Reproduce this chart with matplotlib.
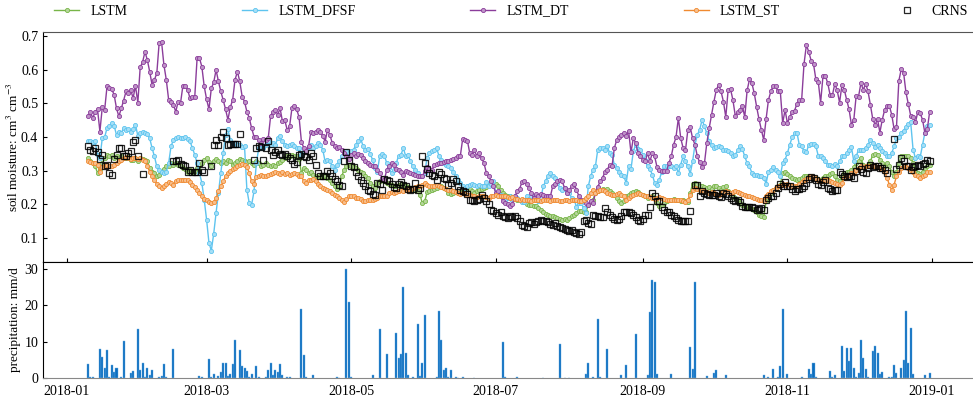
import numpy as np
import pandas as pd
import matplotlib

matplotlib.use("Agg")
import matplotlib.pyplot as plt
import matplotlib.dates as mdates
from matplotlib.colors import to_rgb

plt.rcParams.update({
    "font.family": "serif",
    "font.serif": ["Liberation Serif", "DejaVu Serif"],
    "mathtext.fontset": "stix",
    "font.size": 10,
    "xtick.direction": "in",
    "ytick.direction": "in",
    "axes.linewidth": 0.8,
})

nan = np.nan
start = "2018-01-10"

# daily soil moisture, 2018-01-10 .. 2018-12-31 (cm3/cm3)
lstm = [
    0.337, 0.327, 0.322, 0.312, 0.293, 0.304, 0.322, 0.337, 0.347, 0.342,
    0.347, 0.337, 0.344, 0.337, 0.342, 0.337, 0.337, 0.340, 0.332, 0.330,
    0.337, 0.327, 0.337, 0.334, 0.332, 0.327, 0.307, 0.297, 0.293, 0.283,
    0.288, 0.297, 0.304, 0.312, 0.314, 0.322, 0.317, 0.322, 0.317, 0.312,
    0.307, 0.304, 0.297, 0.302, 0.297, 0.300, 0.307, 0.302, 0.322, 0.332,
    0.337, 0.324, 0.312, 0.327, 0.334, 0.327, 0.322, 0.327, 0.322, 0.332,
    0.327, 0.317, 0.322, 0.327, 0.334, 0.330, 0.327, 0.324, 0.327, 0.322,
    0.317,
    0.327, 0.322, 0.314, 0.317, 0.322, 0.317, 0.314, 0.317, 0.314, 0.322,
    0.324, 0.332, 0.337, 0.342, 0.342, 0.347, 0.344, 0.342, 0.334, 0.293,
    0.307, 0.302, 0.293, 0.297, 0.288, 0.283, 0.281, 0.283, 0.285, 0.283,
    0.278, 0.273, 0.263, 0.253, 0.245, 0.253, 0.283, 0.302, 0.314, 0.317,
    0.312, 0.310, 0.307, 0.302, 0.297, 0.293, 0.283, 0.278, 0.263, 0.253,
    0.248, 0.263, 0.268, 0.273, 0.268, 0.263, 0.261, 0.258, 0.255, 0.253,
    0.258, 0.261, 0.258, 0.253, 0.250, 0.245, 0.243, 0.241, 0.238, 0.228,
    0.203, 0.208,
    0.235, 0.238, 0.243, 0.245, 0.248, 0.253, 0.253, 0.248, 0.245, 0.233,
    0.231, 0.233, 0.235, 0.233, 0.235, 0.238, 0.243, 0.245, 0.245, 0.238,
    0.233, 0.238, 0.243, 0.245, 0.248, 0.251, 0.258, 0.265, 0.263, 0.261,
    0.253, 0.243, 0.233, 0.228, 0.225, 0.223, 0.218, 0.215, 0.213, 0.211,
    0.208, 0.205, 0.201, 0.198, 0.198, 0.196, 0.196, 0.189, 0.184, 0.176,
    0.172, 0.169, 0.164, 0.164, 0.162, 0.159, 0.156, 0.154, 0.156, 0.152,
    0.159, 0.164, 0.169, 0.174, 0.179, 0.179, 0.176, 0.176, 0.198, 0.205,
    0.213,
    0.233, 0.238, 0.241, 0.245, 0.243, 0.245, 0.238, 0.233, 0.228, 0.218,
    0.208, 0.203, 0.208, 0.223, 0.228, 0.233, 0.235, 0.238, 0.235, 0.231,
    0.228, 0.223, 0.218, 0.221, 0.225, 0.218, 0.203, 0.196, 0.198, 0.203,
    0.208, 0.211, 0.213, 0.215, 0.213, 0.211, 0.208, 0.211, 0.208, 0.205,
    0.233, 0.261, 0.263, 0.261, 0.255, 0.253, 0.251, 0.248, 0.251, 0.245,
    0.253, 0.255, 0.248, 0.243, 0.251, 0.253, 0.238, 0.228, 0.223, 0.218,
    0.211, 0.203, 0.198, 0.196, 0.192, 0.189, 0.186, 0.182, 0.176, 0.169,
    0.164, 0.162,
    0.208, 0.218, 0.233, 0.243, 0.245, 0.253, 0.258, 0.293, 0.295, 0.291,
    0.283, 0.278, 0.275, 0.273, 0.275, 0.278, 0.283, 0.283, 0.285, 0.283,
    0.281, 0.278, 0.275, 0.273, 0.278, 0.283, 0.285, 0.291, 0.293, 0.283,
    0.273, 0.268, 0.283, 0.293, 0.295, 0.297, 0.302, 0.310, 0.322, 0.327,
    0.337, 0.317, 0.312, 0.317, 0.327, 0.347, 0.350, 0.347, 0.332, 0.322,
    0.314, 0.322, 0.312, 0.297, 0.285, 0.297, 0.322, 0.342, 0.344, 0.342,
    0.342, 0.337, 0.322, 0.302, 0.293, 0.291, 0.297, 0.307, 0.312, 0.317,
]

lstm_dfsf = [
    0.387, 0.387, 0.384, 0.387, 0.347, 0.337, 0.396, 0.399, 0.426, 0.431,
    0.441, 0.433, 0.406, 0.416, 0.411, 0.426, 0.421, 0.423, 0.416, 0.423,
    0.436, 0.403, 0.411, 0.416, 0.411, 0.409, 0.396, 0.367, 0.342, 0.312,
    0.302, 0.297, 0.293, 0.297, 0.322, 0.372, 0.391, 0.396, 0.399, 0.396,
    0.396, 0.399, 0.393, 0.387, 0.367, 0.347, 0.322, 0.293, 0.263, 0.213,
    0.154, 0.085, 0.062, 0.112, 0.174, 0.233, 0.293, 0.352, 0.406, 0.423,
    0.391, 0.382, 0.382, 0.377, 0.377, 0.370, 0.372, 0.243, 0.203, 0.198,
    0.238,
    0.322, 0.367, 0.367, 0.367, 0.377, 0.387, 0.377, 0.382, 0.377, 0.396,
    0.403, 0.387, 0.377, 0.374, 0.377, 0.380, 0.374, 0.367, 0.367, 0.347,
    0.357, 0.362, 0.370, 0.377, 0.367, 0.374, 0.382, 0.377, 0.362, 0.327,
    0.332, 0.327, 0.312, 0.302, 0.317, 0.327, 0.342, 0.354, 0.357, 0.344,
    0.357, 0.362, 0.377, 0.387, 0.396, 0.372, 0.362, 0.364, 0.350, 0.332,
    0.307, 0.295, 0.342, 0.350, 0.344, 0.322, 0.307, 0.293, 0.302, 0.322,
    0.344, 0.347, 0.367, 0.342, 0.347, 0.327, 0.312, 0.302, 0.293, 0.285,
    0.283, 0.293,
    0.337, 0.352, 0.357, 0.362, 0.367, 0.344, 0.332, 0.322, 0.317, 0.312,
    0.307, 0.297, 0.283, 0.273, 0.263, 0.253, 0.248, 0.255, 0.258, 0.261,
    0.258, 0.253, 0.258, 0.253, 0.255, 0.265, 0.253, 0.261, 0.268, 0.233,
    0.223, 0.228, 0.218, 0.213, 0.218, 0.223, 0.213, 0.223, 0.218, 0.213,
    0.205, 0.205, 0.223, 0.215, 0.223, 0.223, 0.213, 0.208, 0.218, 0.253,
    0.268, 0.285, 0.293, 0.285, 0.278, 0.263, 0.248, 0.243, 0.248, 0.238,
    0.233, 0.218, 0.213, 0.193, 0.203, 0.203, 0.189, 0.174, 0.253, 0.283,
    0.302,
    0.312, 0.362, 0.367, 0.367, 0.362, 0.372, 0.352, 0.347, 0.317, 0.307,
    0.297, 0.288, 0.283, 0.263, 0.314, 0.304, 0.357, 0.377, 0.364, 0.362,
    0.347, 0.330, 0.312, 0.304, 0.288, 0.263, 0.258, 0.273, 0.297, 0.314,
    0.312, 0.312, 0.314, 0.307, 0.312, 0.293, 0.317, 0.342, 0.327, 0.312,
    0.291, 0.327, 0.377, 0.406, 0.421, 0.451, 0.431, 0.411, 0.387, 0.377,
    0.367, 0.370, 0.372, 0.370, 0.360, 0.362, 0.357, 0.352, 0.342, 0.347,
    0.360, 0.372, 0.364, 0.342, 0.322, 0.312, 0.293, 0.288, 0.288, 0.283,
    0.283, 0.278,
    0.261, 0.297, 0.302, 0.310, 0.302, 0.297, 0.283, 0.322, 0.332, 0.352,
    0.377, 0.399, 0.411, 0.413, 0.377, 0.372, 0.357, 0.354, 0.377, 0.380,
    0.380, 0.372, 0.344, 0.344, 0.337, 0.327, 0.317, 0.317, 0.312, 0.320,
    0.312, 0.327, 0.342, 0.344, 0.352, 0.362, 0.370, 0.327, 0.342, 0.362,
    0.360, 0.360, 0.367, 0.377, 0.391, 0.382, 0.370, 0.377, 0.367, 0.357,
    0.352, 0.342, 0.342, 0.352, 0.372, 0.396, 0.401, 0.411, 0.419, 0.429,
    0.439, 0.443, 0.362, 0.337, 0.342, 0.340, 0.377, 0.413, 0.433, 0.436,
]

lstm_dt = [
    0.463, 0.473, 0.456, 0.475, 0.482, 0.416, 0.488, 0.480, 0.550, 0.545,
    0.542, 0.525, 0.485, 0.461, 0.485, 0.508, 0.535, 0.530, 0.540, 0.515,
    0.552, 0.502, 0.607, 0.622, 0.653, 0.629, 0.594, 0.555, 0.570, 0.589,
    0.680, 0.683, 0.614, 0.570, 0.510, 0.505, 0.495, 0.475, 0.505, 0.500,
    0.552, 0.552, 0.540, 0.515, 0.518, 0.518, 0.634, 0.634, 0.609, 0.550,
    0.512, 0.482, 0.545, 0.562, 0.599, 0.565, 0.535, 0.510, 0.482, 0.451,
    0.488, 0.510, 0.570, 0.594, 0.565, 0.520, 0.505, 0.475, 0.456, 0.426,
    0.401,
    0.401, 0.392, 0.382, 0.393, 0.391, 0.396, 0.461, 0.475, 0.480, 0.466,
    0.485, 0.446, 0.449, 0.421, 0.431, 0.485, 0.492, 0.482, 0.459, 0.386,
    0.367, 0.357, 0.372, 0.416, 0.411, 0.416, 0.421, 0.416, 0.403, 0.386,
    0.421, 0.406, 0.382, 0.372, 0.367, 0.370, 0.362, 0.352, 0.344, 0.334,
    0.347, 0.352, 0.344, 0.350, 0.347, 0.337, 0.327, 0.322, 0.317, 0.312,
    0.312, 0.302, 0.293, 0.278, 0.273, 0.302, 0.312, 0.322, 0.317, 0.304,
    0.302, 0.295, 0.288, 0.298, 0.295, 0.293, 0.291, 0.288, 0.283, 0.285,
    0.283, 0.298,
    0.310, 0.305, 0.303, 0.315, 0.320, 0.322, 0.322, 0.325, 0.327, 0.327,
    0.331, 0.334, 0.337, 0.342, 0.342, 0.393, 0.391, 0.389, 0.352, 0.347,
    0.360, 0.342, 0.352, 0.337, 0.322, 0.293, 0.283, 0.268, 0.253, 0.233,
    0.238, 0.223, 0.208, 0.203, 0.201, 0.196, 0.201, 0.223, 0.238, 0.245,
    0.265, 0.268, 0.261, 0.248, 0.233, 0.218, 0.231, 0.223, 0.231, 0.228,
    0.223, 0.225, 0.223, 0.253, 0.261, 0.268, 0.273, 0.268, 0.248, 0.233,
    0.243, 0.253, 0.261, 0.243, 0.225, 0.213, 0.211, 0.203, 0.198, 0.208,
    0.203,
    0.233, 0.251, 0.268, 0.278, 0.295, 0.302, 0.317, 0.312, 0.367, 0.391,
    0.401, 0.406, 0.411, 0.403, 0.418, 0.354, 0.396, 0.382, 0.352, 0.342,
    0.332, 0.327, 0.352, 0.327, 0.352, 0.342, 0.310, 0.302, 0.298, 0.300,
    0.298, 0.322, 0.342, 0.377, 0.399, 0.456, 0.396, 0.367, 0.360, 0.421,
    0.429, 0.396, 0.377, 0.342, 0.324, 0.310, 0.322, 0.382, 0.426, 0.466,
    0.505, 0.540, 0.555, 0.535, 0.505, 0.459, 0.540, 0.542, 0.510, 0.463,
    0.473, 0.480, 0.492, 0.459, 0.538, 0.571, 0.560, 0.530, 0.490, 0.453,
    0.421, 0.391,
    0.453, 0.510, 0.535, 0.552, 0.550, 0.535, 0.535, 0.441, 0.480, 0.441,
    0.459, 0.475, 0.478, 0.498, 0.510, 0.510, 0.617, 0.673, 0.653, 0.627,
    0.617, 0.571, 0.564, 0.502, 0.581, 0.581, 0.560, 0.525, 0.525, 0.558,
    0.538, 0.502, 0.555, 0.540, 0.510, 0.482, 0.436, 0.451, 0.522, 0.520,
    0.560, 0.540, 0.558, 0.535, 0.495, 0.453, 0.436, 0.453, 0.413, 0.451,
    0.480, 0.492, 0.492, 0.466, 0.423, 0.429, 0.567, 0.601, 0.591, 0.532,
    0.498, 0.463, 0.459, 0.443, 0.475, 0.470, 0.451, 0.411, 0.423, 0.475,
]

lstm_st = [
    0.327, 0.324, 0.322, 0.322, 0.317, 0.297, 0.310, 0.314, 0.317, 0.312,
    0.314, 0.317, 0.322, 0.327, 0.332, 0.337, 0.340, 0.337, 0.334, 0.337,
    0.337, 0.334, 0.337, 0.332, 0.327, 0.312, 0.297, 0.283, 0.273, 0.261,
    0.253, 0.248, 0.253, 0.261, 0.265, 0.263, 0.258, 0.268, 0.271, 0.273,
    0.271, 0.273, 0.271, 0.265, 0.258, 0.251, 0.243, 0.233, 0.225, 0.215,
    0.211, 0.205, 0.203, 0.205, 0.218, 0.238, 0.253, 0.268, 0.283, 0.293,
    0.300, 0.304, 0.307, 0.312, 0.317, 0.320, 0.317, 0.310, 0.293, 0.268,
    0.261,
    0.281, 0.285, 0.288, 0.285, 0.283, 0.288, 0.291, 0.293, 0.295, 0.293,
    0.291, 0.295, 0.291, 0.293, 0.288, 0.291, 0.293, 0.291, 0.285, 0.283,
    0.268, 0.263, 0.271, 0.273, 0.275, 0.268, 0.261, 0.255, 0.248, 0.245,
    0.243, 0.238, 0.233, 0.228, 0.225, 0.218, 0.213, 0.205, 0.215, 0.223,
    0.225, 0.223, 0.218, 0.218, 0.215, 0.208, 0.208, 0.211, 0.213, 0.211,
    0.215, 0.218, 0.223, 0.225, 0.223, 0.225, 0.233, 0.235, 0.233, 0.235,
    0.238, 0.241, 0.238, 0.243, 0.245, 0.243, 0.248, 0.251, 0.253, 0.255,
    0.258, 0.263,
    0.258, 0.255, 0.253, 0.255, 0.258, 0.255, 0.251, 0.248, 0.245, 0.243,
    0.241, 0.238, 0.235, 0.233, 0.231, 0.233, 0.231, 0.228, 0.228, 0.225,
    0.223, 0.221, 0.223, 0.225, 0.223, 0.221, 0.218, 0.223, 0.225, 0.228,
    0.225, 0.223, 0.225, 0.223, 0.221, 0.218, 0.220, 0.215, 0.215, 0.213,
    0.215, 0.211, 0.213, 0.211, 0.208, 0.211, 0.213, 0.211, 0.208, 0.211,
    0.213, 0.211, 0.208, 0.211, 0.213, 0.211, 0.208, 0.208, 0.211, 0.211,
    0.208, 0.211, 0.213, 0.211, 0.208, 0.208, 0.211, 0.218, 0.225, 0.233,
    0.243,
    0.233, 0.238, 0.243, 0.241, 0.238, 0.233, 0.231, 0.228, 0.228, 0.231,
    0.233, 0.228, 0.223, 0.213, 0.218, 0.223, 0.228, 0.231, 0.233, 0.231,
    0.228, 0.225, 0.223, 0.221, 0.218, 0.215, 0.218, 0.221, 0.218, 0.215,
    0.213, 0.211, 0.211, 0.213, 0.211, 0.213, 0.211, 0.208, 0.205, 0.211,
    0.228, 0.243, 0.248, 0.245, 0.243, 0.241, 0.238, 0.235, 0.233, 0.235,
    0.233, 0.231, 0.228, 0.233, 0.235, 0.238, 0.235, 0.233, 0.235, 0.238,
    0.235, 0.233, 0.231, 0.228, 0.225, 0.223, 0.221, 0.218, 0.215, 0.213,
    0.211, 0.208,
    0.223, 0.231, 0.238, 0.243, 0.248, 0.253, 0.255, 0.261, 0.258, 0.261,
    0.258, 0.255, 0.253, 0.255, 0.261, 0.265, 0.271, 0.275, 0.281, 0.283,
    0.281, 0.275, 0.271, 0.268, 0.271, 0.273, 0.271, 0.268, 0.265, 0.263,
    0.261, 0.258, 0.263, 0.278, 0.283, 0.288, 0.293, 0.297, 0.302, 0.307,
    0.312, 0.310, 0.312, 0.314, 0.312, 0.314, 0.312, 0.310, 0.307, 0.304,
    0.297, 0.278, 0.258, 0.241, 0.258, 0.283, 0.297, 0.307, 0.312, 0.310,
    0.307, 0.302, 0.297, 0.288, 0.283, 0.278, 0.283, 0.288, 0.295, 0.297,
]

# cosmic-ray neutron sensor, gaps where no count was kept
crns = [
    0.372, 0.362, 0.357, 0.367, 0.354, 0.334, 0.347, 0.312, 0.317, 0.293,
    0.288, 0.334, 0.347, 0.367, 0.367, 0.342, 0.344, 0.352, 0.357, 0.384,
    0.391, 0.344, nan, 0.290, nan, nan, nan, nan, nan, nan,
    nan, nan, nan, nan, nan, nan, 0.327, 0.327, 0.330, 0.320,
    0.317, 0.312, 0.297, 0.302, 0.297, 0.297, 0.297, 0.322, 0.302, 0.297,
    nan, nan, 0.314, 0.377, 0.391, 0.377, 0.399, 0.416, 0.396, 0.377,
    0.380, 0.380, 0.380, 0.380, 0.409, nan, nan, nan, nan, nan,
    0.332, 0.367, 0.374, 0.370, 0.332, 0.367, 0.389, 0.362, 0.347, 0.354,
    0.360, 0.350, 0.347, 0.350, 0.344, 0.337, 0.330, 0.320, 0.324, 0.347,
    0.350, 0.342, 0.340, 0.330, 0.352, 0.342, 0.317, 0.293, 0.283, 0.285,
    0.283, 0.300, 0.293, 0.285, 0.275, 0.268, 0.258, 0.255, 0.327, 0.354,
    0.332, 0.314, 0.310, 0.295, 0.283, 0.273, 0.263, 0.255, 0.243, 0.238,
    0.231, 0.228, 0.263, 0.261, 0.243, 0.275, 0.273, 0.268, 0.261, 0.251,
    0.248, 0.261, 0.265, 0.258, 0.253, 0.245, 0.243, 0.245, 0.263, 0.243,
    0.248, 0.344, 0.322, 0.304, 0.293, 0.288, 0.283, 0.273, 0.295, 0.291,
    0.278, 0.275, 0.258, 0.263, 0.275, 0.268, 0.255, 0.243, 0.238, 0.235,
    0.231, 0.213, 0.211, 0.208, 0.211, 0.215, 0.228, 0.218, 0.208, 0.201,
    0.184, 0.179, 0.174, 0.169, 0.176, 0.166, 0.162, 0.159, 0.164, 0.162,
    0.166, 0.159, 0.149, 0.139, 0.134, 0.132, 0.144, 0.146, 0.142, 0.146,
    0.149, 0.152, 0.149, 0.149, 0.146, 0.142, 0.139, 0.144, 0.136, 0.132,
    0.129, 0.126, 0.124, 0.119, 0.122, 0.116, 0.114, 0.112, 0.116, 0.149,
    0.154, 0.144, 0.142, 0.169, 0.164, 0.166, 0.162, 0.162, 0.189, 0.176,
    0.169, 0.162, 0.156, 0.152, 0.156, 0.164, 0.176, 0.176, 0.176, 0.174,
    0.169, 0.162, 0.154, 0.149, 0.156, 0.169, 0.169, 0.192, 0.233, 0.223,
    0.208, 0.208, 0.192, 0.184, 0.176, 0.176, 0.169, 0.164, 0.159, 0.154,
    0.149, 0.149, 0.149, 0.149, 0.179, nan, 0.258, 0.258, 0.223, 0.238,
    0.233, 0.231, 0.228, 0.228, 0.228, 0.233, 0.223, 0.221, 0.233, 0.231,
    0.223, 0.218, 0.211, 0.208, 0.211, 0.205, 0.196, 0.193, 0.192, 0.193,
    0.192, 0.189, 0.184, 0.186, 0.189, 0.184, 0.211, 0.218, 0.223, 0.223,
    0.233, 0.248, 0.261, 0.253, 0.265, 0.255, 0.253, 0.245, 0.238, 0.245,
    0.245, 0.248, 0.255, 0.263, 0.275, 0.281, 0.278, 0.271, 0.261, 0.258,
    0.265, 0.271, 0.248, 0.245, 0.238, 0.241, 0.241, 0.295, 0.291, 0.283,
    0.281, 0.283, 0.285, 0.278, 0.300, 0.314, 0.304, 0.297, 0.293, 0.307,
    0.317, 0.310, 0.314, 0.312, 0.307, 0.307, 0.302, 0.293, nan, nan,
    0.393, 0.304, 0.317, 0.337, 0.327, 0.314, 0.314, 0.302, 0.310, 0.314,
    0.317, 0.314, 0.320, 0.322, 0.330, 0.327,
]

# daily precipitation (mm/d): day of year (0 = 1 Jan 2018) and amount, dry days omitted
rain_day = [
    9, 10, 11, 14, 15, 16, 17, 18, 19, 20, 21, 23, 24, 27, 28, 30, 31, 32, 33,
    34, 35, 36, 39, 40, 41, 42, 45, 56, 57, 60, 61, 62, 64, 65, 66, 67, 68, 69,
    70, 71, 73, 74, 75, 76, 77, 78, 80, 81, 84, 85, 86, 87, 88, 89, 90, 91, 93,
    94, 99, 100, 101, 104, 114, 115, 118, 119, 120, 129, 132, 135, 139, 140,
    141, 142, 143, 144, 146, 148, 149, 150, 151, 156, 157, 158, 159, 160, 161,
    162, 164, 165, 167, 172, 184, 185, 190, 201, 208, 210, 212, 219, 220, 222,
    224, 225, 228, 234, 236, 240, 245, 246, 247, 248, 249, 255, 263, 264, 265,
    270, 273, 274, 278, 294, 296, 298, 300, 301, 302, 304, 310, 313, 314, 315,
    316, 322, 323, 324, 327, 328, 329, 330, 331, 332, 333, 334, 335, 336, 337,
    338, 340, 341, 342, 343, 344, 347, 348, 349, 350, 352, 353, 354, 355, 356,
    357, 362, 364,
]
rain_mm = [
    3.8, 0.2, 0.2, 7.9, 5.9, 2.7, 7.8, 0.4, 3.5, 1.7, 2.7, 0.2, 10.1, 1.4, 1.8,
    13.5, 2.2, 4.2, 0.4, 2.7, 0.7, 2.1, 0.2, 0.6, 3.8, 0.2, 8.1, 0.6, 0.4, 5.3,
    0.2, 1.2, 0.5, 1.6, 4.1, 4.0, 0.6, 1.2, 3.9, 10.4, 7.6, 3.3, 2.7, 1.8, 0.3,
    1.2, 3.4, 0.2, 0.3, 2.3, 4.0, 0.7, 2.1, 1.6, 3.9, 0.9, 0.4, 0.4, 19.0, 6.4,
    0.3, 0.7, 0.3, 0.1, 30.2, 21.1, 0.3, 0.9, 13.4, 6.7, 12.5, 5.6, 6.5, 25.0,
    6.8, 0.8, 0.3, 15.0, 0.6, 4.0, 17.3, 0.3, 18.6, 10.4, 2.3, 2.7, 0.3, 2.1,
    0.2, 0.1, 0.4, 0.1, 9.8, 0.4, 0.2, 0.1, 9.5, 0.1, 0.1, 1.2, 4.2, 0.3, 16.3,
    0.2, 8.0, 0.8, 3.5, 12.0, 0.8, 18.3, 27.0, 26.4, 1.1, 1.0, 8.6, 2.4, 26.5,
    0.5, 1.5, 2.3, 0.8, 0.8, 0.4, 2.5, 0.4, 3.3, 19.1, 1.0, 0.2, 2.4, 1.0, 4.1,
    0.4, 1.8, 0.2, 0.8, 8.8, 2.0, 8.2, 4.8, 8.2, 2.8, 0.2, 1.4, 10.4, 5.4, 2.6,
    0.2, 7.5, 8.9, 7.0, 1.0, 1.6, 0.2, 0.3, 3.5, 1.3, 2.8, 5.0, 18.5, 4.2, 13.9,
    1.0, 0.9, 1.5,
]

series = [
    ("LSTM", lstm, "#78b548"),
    ("LSTM_DFSF", lstm_dfsf, "#5ec4ef"),
    ("LSTM_DT", lstm_dt, "#8b3d9b"),
    ("LSTM_ST", lstm_st, "#f08a30"),
]


def tint(c, f=0.45):
    r, g, b = to_rgb(c)
    return (r + (1 - r) * f, g + (1 - g) * f, b + (1 - b) * f)


fig = plt.figure(figsize=(9.73, 3.98), dpi=100)
ax1 = fig.add_axes([0.0442, 0.3417, 0.96, 0.578])
ax2 = fig.add_axes([0.0442, 0.0503, 0.96, 0.2914], sharex=ax1)

handles = []
for name, vals, c in series:
    d = pd.date_range(start, periods=len(vals), freq="D")
    h, = ax1.plot(d, vals, "-o", color=c, lw=1.0, ms=3.0, mfc=tint(c), mec=c,
                  mew=0.6, label=name)
    handles.append(h)

d = pd.date_range(start, periods=len(crns), freq="D")
h, = ax1.plot(d, crns, "s", ms=4.3, mfc="none", mec="black", mew=0.9,
              alpha=0.85, label="CRNS")
handles.append(h)

ax1.set_ylim(0.028, 0.712)
ax1.set_yticks([0.1, 0.2, 0.3, 0.4, 0.5, 0.6, 0.7])
ax1.set_ylabel("soil moisture: cm$^3$ cm$^{-3}$", fontsize=9.5)
ax1.yaxis.set_label_coords(-0.024, 0.5)
ax1.tick_params(labelbottom=False, top=False, right=False, length=3)
ax1.spines["right"].set_visible(False)
ax1.spines["top"].set_color("#555555")

rain_dates = pd.Timestamp("2018-01-01") + pd.to_timedelta(rain_day, unit="D")
ax2.bar(rain_dates, rain_mm, width=0.85, color="#0b6dbf", edgecolor="#6aaee3",
        linewidth=0.3)
ax2.set_ylim(0, 32)
ax2.set_yticks([0, 10, 20, 30])
ax2.set_ylabel("precipitation: mm/d", fontsize=9.5)
ax2.yaxis.set_label_coords(-0.024, 0.5)
ax2.spines["right"].set_visible(False)
ax2.spines["bottom"].set_color("#888888")
ax2.tick_params(axis="x", length=0, pad=5, top=False)
ax2.tick_params(axis="y", length=3)

ax2.xaxis.set_major_locator(mdates.MonthLocator(bymonth=[1, 3, 5, 7, 9, 11]))
ax2.xaxis.set_major_formatter(mdates.DateFormatter("%Y-%m"))
ax2.set_xlim(pd.Timestamp("2017-12-22"), pd.Timestamp("2019-01-20"))

fig.legend(handles, [h.get_label() for h in handles], loc="lower left",
           bbox_to_anchor=(0.05, 0.942, 0.95, 0.04), ncol=5, mode="expand",
           frameon=False, handlelength=1.8, handletextpad=0.8,
           borderaxespad=0.0, fontsize=10)

fig.savefig("out.png", dpi=100)
